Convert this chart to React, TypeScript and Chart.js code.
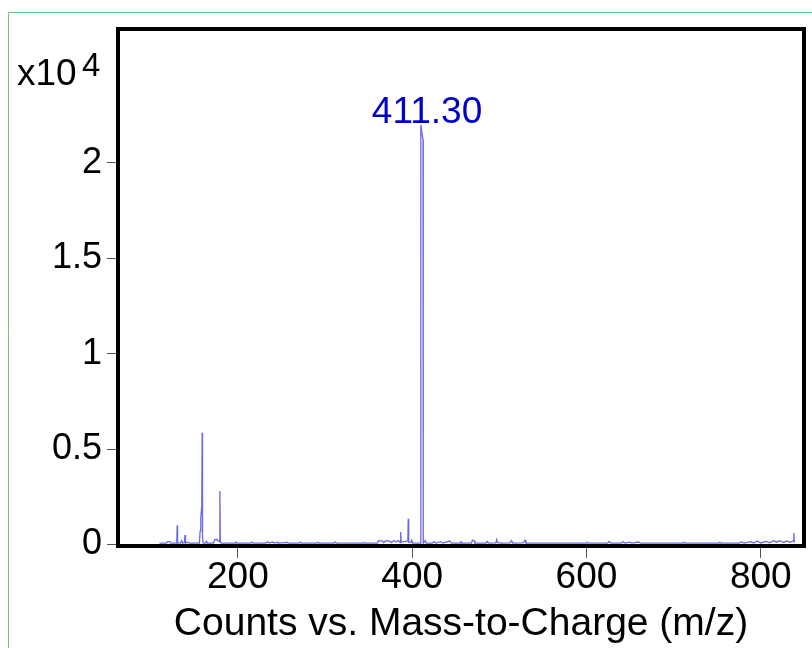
import React, { useEffect, useRef } from "react";
import { Chart, registerables } from "chart.js";

Chart.register(...registerables);

// m/z positions and counts (in units of 10^4)
const mzValues = [
  110, 118, 119, 122, 123, 129.8, 130.3, 130.8, 134, 135.5, 136.5, 138.6, 139.3, 139.9, 142, 144,
  150, 155.8, 156.6, 157.4, 158.5, 159.0, 159.4, 160.2, 163, 164, 165, 168, 172, 173.5, 176, 177,
  178.8, 179.3, 179.8, 181, 190, 197, 198, 199, 214, 216, 217, 232, 234, 236, 240, 242, 245, 246,
  257, 258, 270, 272, 273, 290, 292, 293, 310, 312, 313, 330, 343, 344, 345, 360, 361.5, 366, 367,
  370, 374, 376, 379, 382, 384, 386.2, 386.8, 387.4, 390, 393, 395, 395.5, 396, 398.5, 399.5, 400.5,
  409.6, 409.9, 412.4, 412.7, 415, 416, 423, 425, 427, 433, 435, 443, 445, 455, 456, 457, 468, 469,
  471, 472, 485, 486, 488, 496, 497, 498, 503, 512, 514, 515.5, 527, 529.5, 530.5, 560, 600, 601,
  602, 624, 626, 628, 640, 642, 644, 650, 652, 660, 662, 690, 710, 712, 713, 752, 753, 754, 775,
  778, 781, 788, 792, 796, 800, 806, 810, 815, 818, 822, 826, 830, 834, 837.5, 838, 838.5,
];
const intensities = [
  0.007, 0.007, 0.015, 0.015, 0.007, 0.007, 0.1, 0.007, 0.007, 0.02, 0.007, 0.01, 0.05, 0.007, 0.012, 0.007,
  0.007, 0.007, 0.07, 0.14, 0.2, 0.585, 0.04, 0.007, 0.007, 0.016, 0.007, 0.007, 0.007, 0.026, 0.026, 0.02,
  0.015, 0.28, 0.012, 0.007, 0.007, 0.007, 0.013, 0.007, 0.007, 0.012, 0.007, 0.007, 0.014, 0.007, 0.013, 0.007, 0.012, 0.007,
  0.011, 0.007, 0.007, 0.012, 0.007, 0.007, 0.011, 0.007, 0.007, 0.012, 0.007, 0.007, 0.007, 0.011, 0.007, 0.007, 0.02, 0.018, 0.01,
  0.02, 0.018, 0.01, 0.02, 0.014, 0.02, 0.01, 0.065, 0.012, 0.015, 0.015, 0.02, 0.135, 0.012, 0.01, 0.022, 0.007,
  0.007, 2.2, 2.12, 0.007, 0.02, 0.007, 0.007, 0.015, 0.007, 0.015, 0.007, 0.018, 0.007, 0.007, 0.014, 0.007, 0.007, 0.022,
  0.02, 0.007, 0.007, 0.016, 0.007, 0.008, 0.025, 0.01, 0.007, 0.008, 0.02, 0.007, 0.008, 0.022, 0.007, 0.007, 0.007, 0.012,
  0.007, 0.007, 0.016, 0.007, 0.007, 0.014, 0.007, 0.012, 0.007, 0.013, 0.007, 0.007, 0.007, 0.011, 0.007, 0.007, 0.012, 0.007, 0.007,
  0.013, 0.007, 0.015, 0.008, 0.018, 0.008, 0.016, 0.009, 0.02, 0.012, 0.02, 0.01, 0.018, 0.011, 0.02, 0.06, 0.01,
];

const xTicks = [200, 400, 600, 800];
const yTicks = [0, 0.5, 1, 1.5, 2];
const xTitle = "Counts vs. Mass-to-Charge (m/z)";
const yMultiplier = "x10";
const yExponent = "4";
const peakLabel = "411.30";
const peakMz = 411.3;
const peakIntensity = 2.2;

const FONT = "'Liberation Sans', Arial, Helvetica, sans-serif";

export default function App() {
  const canvasRef = useRef<HTMLCanvasElement | null>(null);

  useEffect(() => {
    const canvas = canvasRef.current;
    if (!canvas) return;
    const points = mzValues.map((x, i) => ({ x, y: intensities[i] }));

    const overlay = {
      id: "overlay",
      beforeDraw(chart: any) {
        const ctx = chart.ctx;
        ctx.save();
        ctx.fillStyle = "#ffffff";
        ctx.fillRect(0, 0, chart.width, chart.height);
        ctx.strokeStyle = "#66c97f";
        ctx.lineWidth = 1;
        ctx.beginPath();
        ctx.moveTo(8.5, chart.height);
        ctx.lineTo(8.5, 12.5);
        ctx.lineTo(chart.width, 12.5);
        ctx.stroke();
        ctx.restore();
      },
      afterDraw(chart: any) {
        const ctx = chart.ctx;
        const a = chart.chartArea;
        ctx.save();
        ctx.strokeStyle = "#000000";
        ctx.lineWidth = 4;
        ctx.strokeRect(a.left, a.top, a.right - a.left, a.bottom - a.top);
        // multiplier
        ctx.fillStyle = "#000000";
        ctx.textBaseline = "alphabetic";
        ctx.textAlign = "left";
        ctx.font = `37px ${FONT}`;
        ctx.fillText(yMultiplier, 17, 85);
        ctx.font = `33px ${FONT}`;
        ctx.fillText(yExponent, 82, 76);
        // peak label
        const xs = chart.scales.x;
        const ys = chart.scales.y;
        ctx.fillStyle = "#0000cc";
        ctx.textAlign = "center";
        ctx.font = `37px ${FONT}`;
        ctx.fillText(peakLabel, xs.getPixelForValue(peakMz) + 5, ys.getPixelForValue(peakIntensity) - 2);
        ctx.restore();
      },
    };

    const chart = new Chart(canvas, {
      type: "scatter",
      data: {
        datasets: [
          {
            data: points,
            showLine: true,
            pointRadius: 0,
            borderColor: "rgba(25,25,220,0.65)",
            borderWidth: 1.3,
            tension: 0,
          },
        ],
      },
      options: {
        responsive: false,
        animation: false,
        devicePixelRatio: 1,
        layout: { padding: { left: 0, top: 29, right: 8, bottom: 0 } },
        plugins: { legend: { display: false }, tooltip: { enabled: false } },
        scales: {
          x: {
            type: "linear",
            min: 62.4,
            max: 849.6,
            afterBuildTicks: (s: any) => {
              s.ticks = xTicks.map((v) => ({ value: v }));
            },
            afterFit: (s: any) => {
              s.height = 102;
            },
            border: { display: false },
            grid: {
              drawOnChartArea: false,
              drawTicks: true,
              tickLength: 12,
              tickColor: "#555555",
              tickWidth: 1,
            },
            ticks: {
              autoSkip: false,
              maxRotation: 0,
              padding: -2,
              color: "#000000",
              font: { family: FONT, size: 37 },
              callback: (v: any) => String(v),
            },
            title: {
              display: true,
              text: xTitle,
              color: "#000000",
              padding: 0,
              font: { family: FONT, size: 39 },
            },
          },
          y: {
            type: "linear",
            min: -0.008,
            max: 2.702,
            afterBuildTicks: (s: any) => {
              s.ticks = yTicks.map((v) => ({ value: v }));
            },
            afterFit: (s: any) => {
              s.width = 118;
            },
            border: { display: false },
            grid: {
              drawOnChartArea: false,
              drawTicks: true,
              tickLength: 11,
              tickColor: "#555555",
              tickWidth: 1,
            },
            ticks: {
              padding: 5,
              color: "#000000",
              font: { family: FONT, size: 36 },
              callback: (v: any) => String(v),
            },
          },
        },
      },
      plugins: [overlay],
    });

    return () => chart.destroy();
  }, []);

  return (
    <div style={{ position: "absolute", left: 0, top: 0, width: 812, height: 648 }}>
      <canvas ref={canvasRef} width={812} height={648} style={{ display: "block", width: 812, height: 648 }} />
    </div>
  );
}
